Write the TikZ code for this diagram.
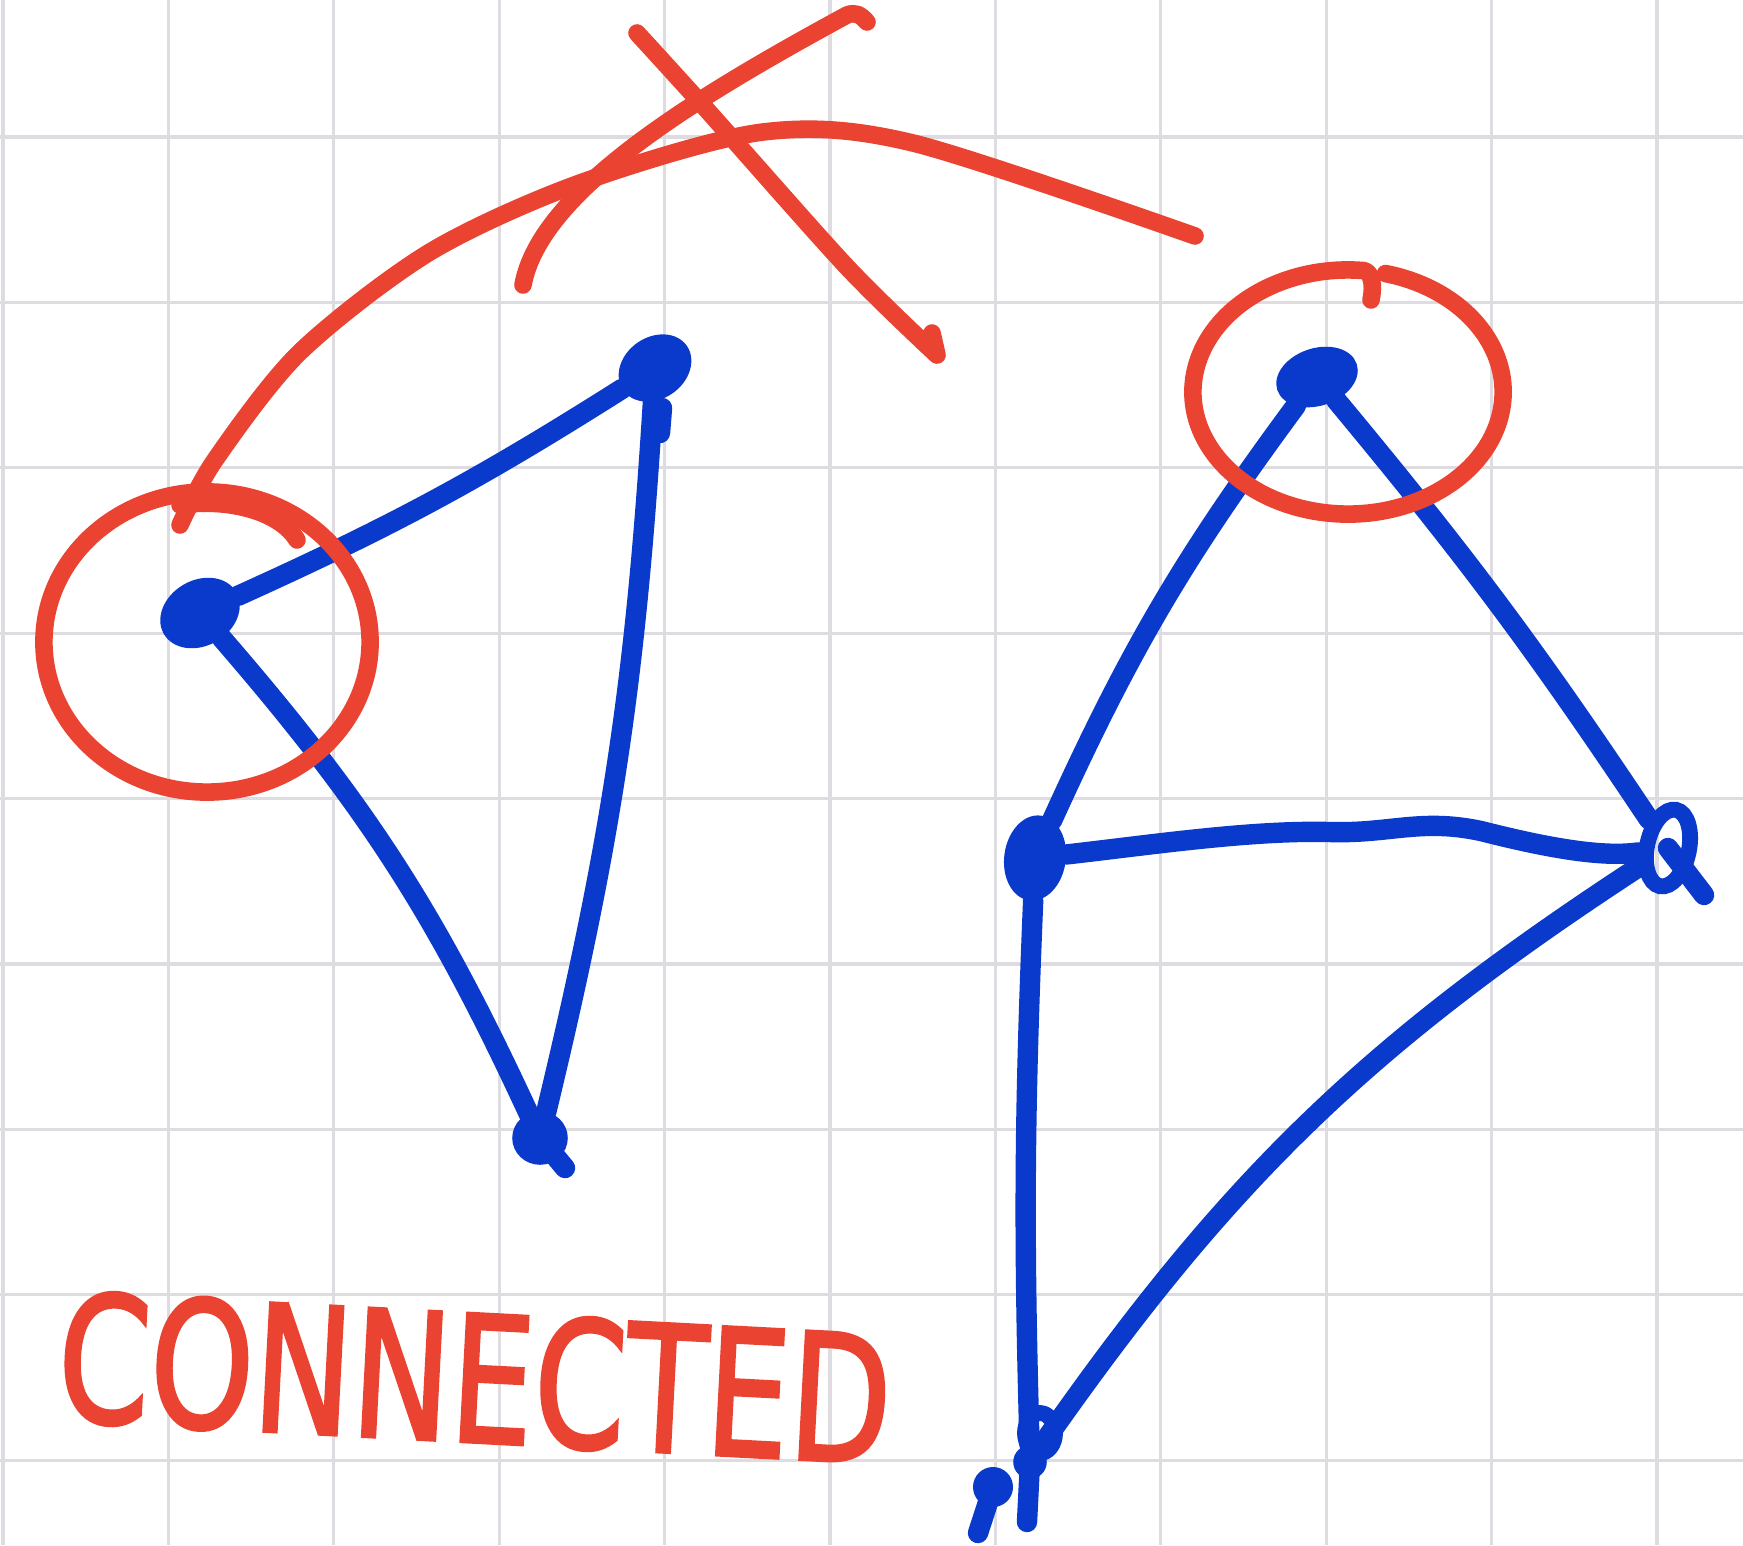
\documentclass[tikz,border=0pt]{standalone}
\usepackage{fontspec}
\newfontfamily\handfont[FakeBold=2]{DejaVu Sans}
\usetikzlibrary{shapes.geometric}
\definecolor{pen}{RGB}{10,58,204}
\definecolor{marker}{RGB}{234,67,50}
\definecolor{gridc}{RGB}{222,220,224}
\begin{document}
\begin{tikzpicture}[x=0.01cm,y=0.01cm,
  bluepen/.style={draw=pen,line width=5.8pt,line cap=round,line join=round},
  redpen/.style={draw=marker,line width=5pt,line cap=round,line join=round},
  vertex/.style={ellipse,fill=pen,draw=pen,line width=1pt,inner sep=0pt},
  loopv/.style={ellipse,draw=pen,line width=4.5pt,inner sep=0pt},
  gridline/.style={draw=gridc,line width=0.9pt}]
\fill[white] (0,0) rectangle (1743,-1545);
\useasboundingbox (0,0) rectangle (1743,-1545);
\foreach \i in {0,...,10} \draw[gridline] ({3+165.4*\i},0) -- ({3+165.4*\i},-1545);
\foreach \j in {0,...,8} \draw[gridline] (0,{-137-165.4*\j}) -- (1743,{-137-165.4*\j});

% vertices
\node[vertex,minimum width=0.8cm,minimum height=0.62cm,rotate=30] (A) at (200,-613) {};
\node[vertex,minimum width=0.74cm,minimum height=0.58cm,rotate=35] (B) at (655,-368) {};
\node[vertex,minimum width=0.52cm,minimum height=0.5cm] (C) at (540,-1138) {};
\node[vertex,minimum width=0.8cm,minimum height=0.54cm,rotate=18] (D) at (1317,-377) {};
\node[vertex,minimum width=0.58cm,minimum height=0.82cm,rotate=-8] (E) at (1035,-858) {};
\node[loopv,minimum width=0.42cm,minimum height=0.78cm,rotate=-12] (F) at (1668,-848) {};
\node[vertex,minimum width=0.3cm,minimum height=0.3cm] (G) at (1030,-1462) {};

% edges
\draw[bluepen] (A) to[bend right=4] (B);
\draw[bluepen] (B) to[bend left=5] (C);
\draw[bluepen] (A) to[bend left=8] (C);
\draw[bluepen] (D) to[bend right=6] (E);
\draw[bluepen] (D) to[bend left=3] (F);
\draw[bluepen] (E) .. controls (1150,-845) and (1250,-830) .. (1329,-832)
  .. controls (1390,-834) and (1420,-818) .. (1481,-831)
  .. controls (1540,-846) and (1600,-858) .. (F);
\draw[bluepen] (E) to[bend right=2] (G);
\draw[bluepen] (F) to[bend right=11] (G);

% vertex details
\draw[bluepen] (662,-408) -- (660,-433);
\draw[bluepen] (C.center) -- (565,-1168);
\draw[bluepen] (F.center) -- (1704,-895);
\draw[bluepen,line width=4.5pt] (1040,-1433) ellipse [x radius=0.15cm, y radius=0.2cm];
\fill[pen] (993,-1487) circle [radius=0.2cm];
\draw[bluepen] (993,-1487) -- (978,-1533);
\draw[bluepen] (G.center) -- (1027,-1522);

% red marks
\draw[redpen] (207,-642) ellipse [x radius=1.63cm, y radius=1.5cm];
\draw[redpen] (180,-505) .. controls (230,-498) and (280,-512) .. (297,-540);
\draw[redpen] plot[smooth] coordinates {(180,-525) (215,-460) (300,-352) (430,-252) (580,-183) (763,-132) (913,-143) (1195,-236)};
\draw[redpen] plot[smooth] coordinates {(637,-33) (707,-110) (847,-267) (937,-355)} -- (932,-333);
\draw[redpen] (867,-22) .. controls (860,-14) and (855,-12) .. (847,-15)
  .. controls (700,-95) and (540,-190) .. (523,-285);
\draw[redpen] (1348,-392) ++(76:1.55cm and 1.22cm) arc[start angle=76, end angle=-276, x radius=1.55cm, y radius=1.22cm]
  .. controls (1372,-273) and (1374,-285) .. (1371,-300);

% label
\node[text=marker, font=\handfont\fontsize{50}{50}\selectfont, rotate=-3, xscale=0.75, inner sep=0pt] (label) at (475,-1378) {CONNECTED};
\end{tikzpicture}
\end{document}
